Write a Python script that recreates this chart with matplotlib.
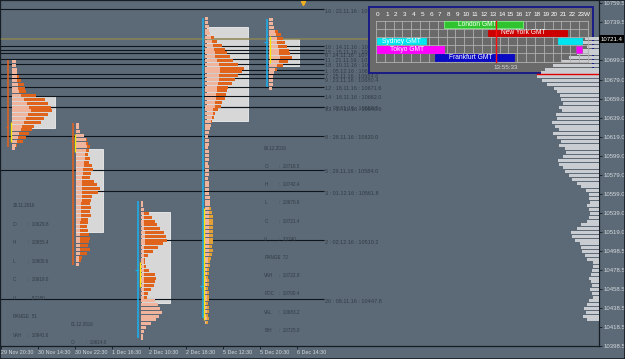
import matplotlib
matplotlib.use('Agg')
import matplotlib.pyplot as plt
import numpy as np
from matplotlib.patches import Rectangle
from matplotlib.transforms import Affine2D, blended_transform_factory

plt.rcParams['font.family'] = ['Liberation Sans', 'DejaVu Sans']

# ------------------------------------------------------------------ data
ytick_values = [10759.5, 10739.5, 10699.5, 10679.0, 10659.0, 10639.0,
                10619.0, 10599.0, 10579.0, 10559.0, 10539.0, 10519.0, 10498.5,
                10478.5, 10458.5, 10438.5, 10418.5, 10398.5]
xtick_pos = [1, 38, 75, 112, 149, 186, 223, 260, 297]
xtick_labels = ['29 Nov 20:30', '30 Nov 14:30', '30 Nov 22:30', '1 Dec 16:30',
                '2 Dec 10:30', '2 Dec 18:30', '5 Dec 12:30', '5 Dec 20:30',
                '6 Dec 14:30']
current_price = 10721.4

poc_ids = [10, 16, 15, 6, 11, 18, 1, 7, 9, 12, 14, 4, 13, 8, 5, 3, 2, 20]
poc_dates = ['22.11.16', '14.11.16', '15.11.16', '24.11.16', '21.11.16', '10.11.16',
             '05.12.16', '25.11.16', '23.11.16', '18.11.16', '16.11.16', '30.11.16',
             '17.11.16', '28.11.16', '29.11.16', '01.12.16', '02.12.16', '08.11.16']
poc_prices = [10753.0, 10714.8, 10709.6, 10706.4, 10701.0, 10695.6, 10689.4,
              10684.6, 10680.4, 10671.6, 10662.0, 10650.5, 10649.6, 10620.0,
              10584.0, 10561.8, 10510.2, 10447.8]
poc_start = [0, 0, 0, 0, 0, 0, 205, 0, 0, 0, 0, 12, 0, 0, 0, 77, 141, 0]

# market profile sessions (TPO widths per 4-point row, top row first)
STEP = 4
sess_x0 = [12, 76, 141, 205, 269]
sess_top = [10698, 10632, 10550, 10743, 10742]
s1_total = [4, 4, 5, 5, 7, 9, 12, 13, 14, 24, 33, 36, 39, 40, 36, 32, 29, 22, 20, 17, 14, 11, 5, 3]
s1_light = [4, 4, 5, 5, 5, 5, 6, 6, 7, 9, 12, 15, 17, 19, 16, 14, 12, 10, 9, 7, 6, 5, 4, 3]
s2_total = [3, 3, 4, 8, 11, 12, 14, 13, 12, 14, 13, 16, 17, 15, 14, 18, 21, 24, 22, 16,
            15, 14, 15, 14, 15, 12, 12, 11, 12, 13, 14, 13, 12, 14, 11, 6, 5, 3]
s2_light = [3, 3, 4, 8, 10, 10, 11, 10, 9, 9, 8, 8, 7, 7, 6, 6, 6, 6, 6, 6,
            6, 5, 5, 5, 5, 5, 4, 4, 4, 4, 4, 4, 4, 4, 4, 3, 3, 3]
s3_total = [2, 2, 3, 8, 11, 14, 16, 19, 23, 25, 26, 22, 17, 12, 7, 4, 4, 5, 8, 14,
            15, 14, 13, 10, 7, 6, 14, 17, 19, 21, 18, 15, 10, 5, 3, 2, 2]
s3_light = [2, 2, 3, 3, 3, 3, 3, 3, 4, 4, 4, 4, 3, 3, 3, 3, 3, 3, 3, 3,
            3, 3, 3, 3, 3, 3, 14, 17, 19, 21, 18, 15, 10, 5, 3, 2, 2]
s4_total = [3, 3, 4, 4, 5, 9, 12, 17, 20, 22, 25, 28, 33, 39, 37, 33, 30, 27, 23, 22,
            21, 20, 17, 16, 13, 10, 9, 7, 6, 5,
            4, 3, 4, 4, 3, 4, 4, 4, 3, 4, 4, 4, 3, 4, 4, 4, 4, 5, 5, 5,
            6, 7, 8, 8, 8, 8, 8, 8, 8, 8, 7, 8, 7, 6, 5, 5, 4,
            4, 3, 4, 4, 3, 4, 4, 4, 3, 4, 4, 3, 4, 3]
s4_light = [3, 3, 4, 4, 5, 6, 7, 8, 9, 10, 10, 12, 14, 15, 15, 14, 14, 13, 12, 12,
            11, 11, 10, 10, 8, 8, 7, 6, 6, 5,
            4, 3, 4, 4, 3, 4, 4, 4, 3, 4, 4, 4, 3, 4, 4, 4, 4, 5, 5, 5,
            4, 4, 4, 4, 4, 4, 4, 4, 4, 4, 4, 4, 4, 3, 3, 3, 2,
            2, 1, 2, 2, 1, 2, 2, 2, 1, 2, 2, 1, 2, 1]
s5_total = [4, 4, 5, 9, 12, 14, 16, 18, 20, 21, 23, 19, 14, 8, 5, 4, 4, 4, 3]
s5_light = [4, 4, 5, 6, 7, 8, 8, 9, 10, 10, 11, 10, 8, 6, 5, 4, 4, 4, 3]
sess_totals = [s1_total, s2_total, s3_total, s4_total, s5_total]
sess_lights = [s1_light, s2_light, s3_light, s4_light, s5_light]
gold_below = [None, None, None, 10545, None]

va_high = [10661.7, 10605.9, 10539.5, 10734.3, 10721.7]
va_low = [10628.0, 10518.5, 10443.8, 10635.3, 10693.2]
box_x0 = [12, 76, 142, 207, 269]
box_x1 = [55, 103, 170, 248, 299]
range_x = [8.3, 73.3, 137.5, 202.7, 266.7]
range_high = [10699.6, 10633.2, 10551.4, 10743.8, 10742.7]
range_low = [10608.0, 10483.8, 10406.9, 10428.0, 10671.1]
range_kind = ['orange', 'orange', 'blue', 'blue', 'blue']
open_tick = [10629.0, 10614.3, 10478.5, 10461.7, 10718.5]
ib_x = [10.7, 75.0, 140.0, 204.0, 270.0]
ib_high = [10634.3, 10621.7, 10486.9, 10543.8, 10724.8]
ib_low = [10613.2, 10602.8, 10460.6, 10426.0, 10696.4]

# composite volume profile on the right (4-point rows from 10722 down)
vp_top = 10722
vp_len = [14, 16, 12, 16, 22, 30, 38, 46, 54, 58, 62, 57, 52, 45, 42, 39, 38, 36, 40, 37,
          43, 42, 47, 44, 40, 46, 42, 38, 40, 34, 33, 36, 41, 40, 36, 34, 30, 27, 22, 18,
          13, 10, 10, 9, 12, 10, 9, 10, 12, 18, 22, 28, 27, 24, 19, 18, 17, 14, 12, 6,
          6, 7, 8, 10, 8, 7, 9, 7, 6, 10, 12, 15, 13, 16, 12]

# statistics text blocks
statA_title = '30.11.2016'
statA_keys = ['O', 'H', 'L', 'C', 'V', 'RANGE', 'VAH']
statA_vals = ['10629.8', '10655.4', '10600.6', '10618.0', '57180', '51', '10641.6']
statB_title = '01.12.2016'
statB_keys = ['O']
statB_vals = ['10614.0']
statC_title = '06.12.2016'
statC_keys = ['O', 'H', 'L', 'C', 'V', 'RANGE', 'VAH', 'POC', 'VAL', 'IBH', 'IBL']
statC_vals = ['10710.5', '10742.4', '10670.9', '10721.4', '33740', '72', '10722.8',
              '10700.4', '10683.2', '10725.0', '10688.0']

# trading-session panel
hours = list(range(24))
tz_names = ['London GMT', 'New York GMT', 'Sydney GMT', 'Tokyo GMT', 'Frankfurt GMT']
tz_start = [8, 13, 0, 0, 7]
tz_end = [17, 22, 6, 8, 16]
tz_extra = [None, None, (21, 24), (23, 24), None]
tz_colors = ['#2fc42f', '#cc0000', '#00e6f0', '#ff00ff', '#0a0ac4']
tz_text_hour = [9.3, 14.2, 0.7, 1.6, 8.3]
now_hour = 13 + 55 / 60 + 33 / 3600
now_text = '13:55:33'

# ------------------------------------------------------------------ style
BG = '#5c6a77'
DARK = '#151d25'
LIGHT_TXT = '#d3d8dc'
DIM_TXT = '#313b45'
SALMON = '#efb49b'
ORANGE = '#e0631c'
GOLD = '#e3a034'
BLUE = '#19b2ee'
ORLINE = '#e8621c'
YEL = '#f6e600'

fig = plt.figure(figsize=(6.25, 3.59), dpi=100, facecolor=BG)
ax = fig.add_axes([0, 13 / 359, 599 / 625, 346 / 359])
ax.set_facecolor(BG)
ax.set_xlim(0, 599)
ax.set_ylim(10398.5, 10398.5 + 346 / 0.95)
ax.set_autoscale_on(False)

# pixel transform (top-left origin) for layout items
PX = Affine2D().scale(0.01, -0.01).translate(0, 3.59) + fig.dpi_scale_trans

for s in ax.spines.values():
    s.set_color(DARK)
    s.set_linewidth(0.9)

ax.yaxis.tick_right()
ax.set_yticks(ytick_values)
ax.set_yticklabels([f'{v:.1f}' for v in ytick_values])
ax.set_xticks(xtick_pos)
ax.set_xticklabels(xtick_labels)
for lbl in ax.get_xticklabels():
    lbl.set_ha('left')
ax.tick_params(axis='y', colors=DARK, labelcolor=LIGHT_TXT, labelsize=4.3,
               length=2, width=0.6, pad=1.2)
ax.tick_params(axis='x', colors=DARK, labelcolor=LIGHT_TXT, labelsize=3.9,
               length=2, width=0.6, pad=1.2)

# current price line
ax.axhline(current_price, color='#8c8456', lw=1.1, zorder=4)

# naked POC lines + labels
ax.hlines(poc_prices, poc_start, 324, color='#0e151c', lw=0.8, zorder=4)
for i, d, p in zip(poc_ids, poc_dates, poc_prices):
    ax.text(325, p + 0.3, f'{i} : {d} : {p:.1f}', fontsize=4.0, color=DIM_TXT,
            va='top', ha='left', zorder=4)

# value-area boxes
for x0, x1, hi, lo in zip(box_x0, box_x1, va_high, va_low):
    ax.add_patch(Rectangle((x0, lo), x1 - x0, hi - lo, facecolor='#d7d7d7',
                           edgecolor='#eeeeee', lw=0.6, zorder=2))

# profiles
for x0, top, tot, lig, gb in zip(sess_x0, sess_top, sess_totals, sess_lights, gold_below):
    prices = top - STEP * np.arange(len(tot))
    dcols = [GOLD if (gb is not None and p < gb) else ORANGE for p in prices]
    ax.barh(prices, tot, left=x0, height=3.2, color=dcols, lw=0, zorder=6)
    ax.barh(prices, lig, left=x0, height=3.2, color=SALMON, lw=0, zorder=6.5)

# range lines, open ticks and IB lines
for x, hi, lo, k, ot in zip(range_x, range_high, range_low, range_kind, open_tick):
    c = BLUE if k == 'blue' else ORLINE
    ax.vlines(x, lo, hi, color=c, lw=1.1, zorder=7)
    ax.hlines(ot, x - 2.5, x, color=c, lw=0.9, zorder=7)
for x, hi, lo in zip(ib_x, ib_high, ib_low):
    ax.vlines(x, lo, hi, color=YEL, lw=0.9, zorder=7.5)

# statistic text blocks
def stat_block(x, y0, dy, title, keys, vals):
    ax.text(x, y0, title, transform=PX, fontsize=3.3, color=DIM_TXT, va='center',
            zorder=5, clip_on=True)
    for j, (k, v) in enumerate(zip(keys, vals)):
        yy = y0 + (j + 1) * dy
        ax.text(x, yy, k, transform=PX, fontsize=3.3, color=DIM_TXT, va='center',
                zorder=5, clip_on=True)
        ax.text(x + 14.5, yy, f':  {v}', transform=PX, fontsize=3.3, color=DIM_TXT,
                va='center', zorder=5, clip_on=True)

stat_block(13, 205.7, 18.5, statA_title, statA_keys, statA_vals)
stat_block(71, 324.0, 18.3, statB_title, statB_keys, statB_vals)
stat_block(264.3, 148.3, 18.2, statC_title, statC_keys, statC_vals)

# top marker
ax.plot([303], [3], marker='v', ms=3, color='#f0b020', transform=PX, clip_on=False, zorder=8)

# -------- session panel (pixel layout)
PX0, PY0, PW, PH = 369, 7, 224, 66
GX0, CW = 376, 8.83
ROWS = [20.5, 28.7, 36.9, 45.1, 53.3, 61.5]
ax.add_patch(Rectangle((PX0, PY0), PW, PH, transform=PX, facecolor='#6a6a6a',
                       edgecolor='#1a1a86', lw=1.4, zorder=20, clip_on=False))

# composite volume profile (over panel background)
vp_prices = vp_top - STEP * np.arange(len(vp_len))
ax.barh(vp_prices, vp_len, left=599 - np.array(vp_len), height=3.0,
        color='#c9cdd1', lw=0, zorder=21)
ax.plot([537, 599], [74, 74], color='#e00000', lw=1.0, transform=PX, zorder=21.5)

# grid
for yy in ROWS:
    ax.plot([GX0, GX0 + 24 * CW], [yy, yy], color='#b0b0b0', lw=0.6, transform=PX, zorder=22)
for h in range(25):
    ax.plot([GX0 + h * CW] * 2, [ROWS[0], ROWS[-1]], color='#b0b0b0', lw=0.6,
            transform=PX, zorder=22)
for h in hours:
    ax.text(GX0 + h * CW + 2, 14.5, str(h), transform=PX, fontsize=4.6, color='white',
            ha='center', va='center', zorder=24)
ax.text(GX0 + 24 * CW - 0.5, 14.5, 'W', transform=PX, fontsize=4.6, color='white',
        ha='center', va='center', zorder=24)

def hx(h):
    return max(373 + h * CW, GX0 + 1)

for r, (name, s, e, ex, c, th) in enumerate(zip(tz_names, tz_start, tz_end, tz_extra,
                                                 tz_colors, tz_text_hour)):
    y0 = ROWS[r] + 0.8
    hgt = ROWS[r + 1] - ROWS[r] - 1.4
    ec = '#7cf07c' if r == 0 else c
    ax.add_patch(Rectangle((hx(s), y0), hx(e) - hx(s), hgt, transform=PX, facecolor=c,
                           edgecolor=ec, lw=0.6, zorder=23, clip_on=False))
    if ex is not None:
        ax.add_patch(Rectangle((hx(ex[0]), y0), hx(ex[1]) - hx(ex[0]) - 3, hgt, transform=PX,
                               facecolor=c, edgecolor='#c040c0' if r == 3 else c, lw=0.6,
                               zorder=23, clip_on=False))
    ax.text(GX0 + th * CW, y0 + hgt / 2, name, transform=PX, fontsize=4.8, color='white',
            ha='left', va='center', zorder=24)

ax.plot([373 + now_hour * CW] * 2, [ROWS[0], ROWS[-1] + 0.5], color='#ff1010', lw=1.0,
        transform=PX, zorder=25)
ax.text(506, 67.5, now_text, transform=PX, fontsize=4.5, color='#d8d8d8', ha='center',
        va='center', zorder=24)

# current price tag on the axis
ax.text(1.0025, current_price, f'{current_price:.1f}',
        transform=blended_transform_factory(ax.transAxes, ax.transData),
        fontsize=4.3, color='white', ha='left', va='center', zorder=30, clip_on=False,
        bbox=dict(facecolor='black', edgecolor='none', pad=1.0))

fig.add_artist(Rectangle((0, 0), 1, 1, transform=fig.transFigure, fill=False,
                         edgecolor=DARK, lw=1.2))

fig.savefig('out.png', dpi=100, facecolor=BG)
